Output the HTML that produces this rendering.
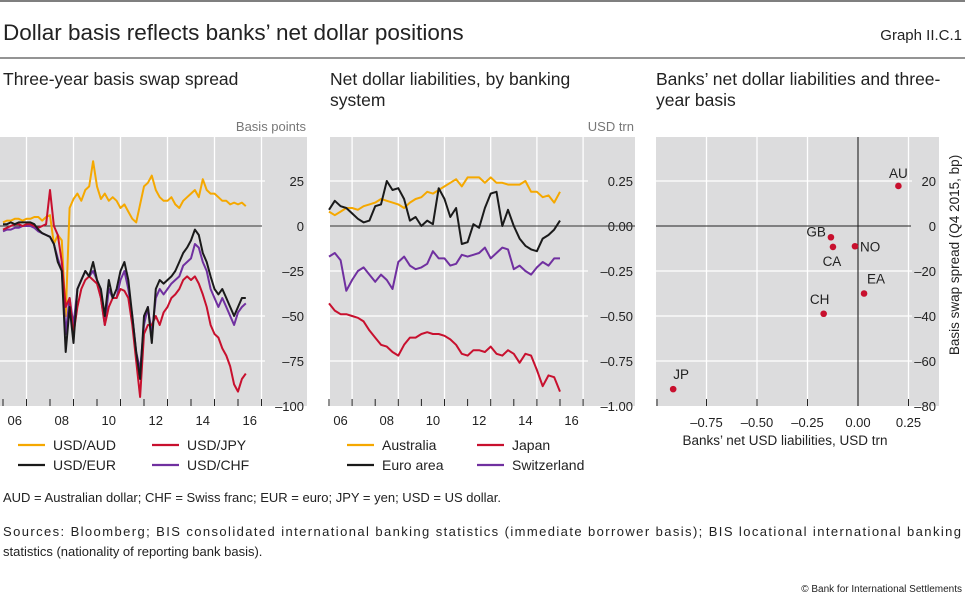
<!DOCTYPE html>
<html><head><meta charset="utf-8"><style>
html,body{margin:0;padding:0;background:#fff;}
svg{display:block;font-family:"Liberation Sans",sans-serif;}
</style></head><body>
<svg id="chart" width="965" height="604" viewBox="0 0 965 604" xmlns="http://www.w3.org/2000/svg">
<line x1="0" y1="1" x2="965" y2="1" stroke="#333" stroke-width="1.2"/>
<text x="3" y="40" font-size="22.5" fill="#222">Dollar basis reflects banks’ net dollar positions</text>
<text x="962" y="40" font-size="15" fill="#222" text-anchor="end">Graph II.C.1</text>
<line x1="0" y1="58" x2="965" y2="58" stroke="#555" stroke-width="1.2"/>
<text x="3" y="85" font-size="17.5" fill="#222">Three-year basis swap spread</text>
<text x="330" y="85" font-size="17.5" fill="#222"><tspan x="330">Net dollar liabilities, by banking</tspan><tspan x="330" dy="21">system</tspan></text>
<text x="656" y="85" font-size="17.5" fill="#222"><tspan x="656">Banks’ net dollar liabilities and three-</tspan><tspan x="656" dy="21">year basis</tspan></text>
<text x="306" y="131" font-size="13" fill="#777" text-anchor="end">Basis points</text>
<text x="634" y="131" font-size="13" fill="#777" text-anchor="end">USD trn</text>
<g id="p1"></g>
<g id="p2"></g>
<g id="p3"></g>
<text x="3" y="502" font-size="13" fill="#222">AUD = Australian dollar; CHF = Swiss franc; EUR = euro; JPY = yen; USD = US dollar.</text>
<text x="3" y="536" font-size="13" fill="#222" textLength="958" lengthAdjust="spacing">Sources: Bloomberg; BIS consolidated international banking statistics (immediate borrower basis); BIS locational international banking</text>
<text x="3" y="556" font-size="13" fill="#222">statistics (nationality of reporting bank basis).</text>
<text x="962" y="592" font-size="10" fill="#222" text-anchor="end">© Bank for International Settlements</text>
</svg>
<script>
// Panel 1 data (bimonthly samples)
const p1Dates = [];
for (let i = 0; i < 63; i++) p1Dates.push(2006 + i / 6);
const audValues = [2,3,3,4,4,3, 4,4,5,5,3,5, 6,-10,-5,-8,-50,10, 15,18,14,20,22,36, 22,15,18,14,16,14, 10,12,8,4,2,12, 22,24,28,20,16,14, 14,16,12,10,14,16, 18,20,16,26,20,18, 18,16,14,14,12,13, 12,13,11];
const chfValues = [-3,-2,-2,-1,-1,0, 0,0,-1,-3,-4,-5, -6,-10,-18,-25,-60,-40, -55,-35,-30,-25,-28,-25, -30,-40,-55,-35,-40,-40, -30,-25,-35,-50,-70,-80, -55,-45,-60,-40,-35,-38, -35,-32,-30,-28,-22,-20, -18,-10,-12,-20,-25,-35, -40,-45,-40,-45,-50,-55, -48,-45,-43];
const jpyValues = [-2,-1,0,1,1,0, 1,1,0,-1,0,1, 20,0,-5,-20,-45,-40, -60,-45,-35,-30,-28,-30, -32,-40,-55,-45,-40,-40, -35,-36,-40,-55,-75,-95, -60,-55,-55,-50,-55,-48, -45,-40,-38,-35,-30,-28, -30,-28,-32,-38,-45,-55, -60,-62,-68,-72,-78,-88, -92,-85,-82];
const eurValues = [1,1,2,1,2,2, 2,2,1,-2,-4,-5, -6,-10,-20,-25,-70,-45, -65,-35,-30,-25,-28,-20, -30,-35,-50,-30,-40,-35, -25,-20,-30,-50,-70,-85, -50,-45,-65,-35,-30,-32, -30,-28,-25,-20,-15,-12, -8,-2,-5,-15,-20,-28, -35,-38,-35,-40,-45,-50, -45,-40,-40];
const p1YTicks = [25, 0, -25, -50, -75, -100];
const p1YTickLabels = ["25", "0", "–25", "–50", "–75", "–100"];
const p1XLabels = ["06", "08", "10", "12", "14", "16"];
const p1XLabelYears = [2006, 2008, 2010, 2012, 2014, 2016];

// Panel 2 data (quarterly, 2006Q1..2016Q1)
const p2Dates = [];
for (let i = 0; i < 41; i++) p2Dates.push(2006 + i / 4);
const australiaValues = [0.08,0.06,0.08,0.10,0.10,0.09,0.11,0.12,0.13,0.15,0.14,0.13,0.12,0.10,0.13,0.15,0.16,0.19,0.18,0.20,0.22,0.24,0.26,0.22,0.27,0.27,0.27,0.24,0.27,0.24,0.24,0.23,0.23,0.23,0.25,0.19,0.19,0.16,0.17,0.13,0.19];
const switzerlandValues = [-0.17,-0.15,-0.19,-0.36,-0.30,-0.25,-0.23,-0.27,-0.31,-0.27,-0.30,-0.35,-0.20,-0.17,-0.22,-0.24,-0.23,-0.21,-0.14,-0.18,-0.18,-0.22,-0.21,-0.16,-0.17,-0.16,-0.15,-0.12,-0.18,-0.15,-0.12,-0.13,-0.24,-0.22,-0.25,-0.27,-0.23,-0.20,-0.22,-0.18,-0.18];
const japanValues = [-0.43,-0.47,-0.49,-0.49,-0.50,-0.51,-0.53,-0.58,-0.62,-0.66,-0.67,-0.70,-0.72,-0.66,-0.62,-0.62,-0.60,-0.59,-0.60,-0.60,-0.61,-0.63,-0.66,-0.71,-0.72,-0.69,-0.69,-0.70,-0.67,-0.71,-0.72,-0.69,-0.71,-0.76,-0.71,-0.72,-0.80,-0.89,-0.83,-0.84,-0.92];
const euroAreaValues = [0.09,0.14,0.11,0.10,0.07,0.04,0.02,0.03,0.11,0.12,0.25,0.20,0.21,0.15,0.03,0.05,0.00,0.03,0.01,0.21,0.15,0.05,0.10,-0.10,-0.09,0.01,-0.01,0.10,0.18,0.19,0.00,0.09,0.00,-0.07,-0.11,-0.13,-0.14,-0.07,-0.05,-0.02,0.03];
const p2YTicks = [0.25, 0, -0.25, -0.5, -0.75, -1];
const p2YTickLabels = ["0.25", "0.00", "–0.25", "–0.50", "–0.75", "–1.00"];

// Panel 3 data (scatter)
const countryCodes = ["AU", "GB", "CA", "NO", "EA", "CH", "JP"];
const netLiabilities = [0.20, -0.134, -0.124, -0.015, 0.03, -0.17, -0.915];
const basisSpread = [17.8, -5, -9.3, -9, -30, -39, -72.5];
const p3XTicks = [-0.75, -0.5, -0.25, 0, 0.25];
const p3XTickLabels = ["–0.75", "–0.50", "–0.25", "0.00", "0.25"];
const p3YTicks = [20, 0, -20, -40, -60, -80];
const p3YTickLabels = ["20", "0", "–20", "–40", "–60", "–80"];

const NS = "http://www.w3.org/2000/svg";
function mk(tag, attrs, parent) {
  const e = document.createElementNS(NS, tag);
  for (const k in attrs) e.setAttribute(k, attrs[k]);
  parent.appendChild(e);
  return e;
}
const COL = {orange: "#f5a800", black: "#1a1a1a", red: "#c8102e", purple: "#7030a0"};

// ---------- Panel 1 ----------
(function () {
  const g = document.getElementById("p1");
  const x = yr => 3 + (yr - 2006) * 23.5;
  const y = v => 226 - v * 1.8;
  const bg = mk("rect", {x: 0, y: 137, width: 307, height: 269, fill: "#dcdcdd"}, g);
  
  
  for (let yr = 2007; yr <= 2017; yr += 2) {
    const l = mk("line", {x1: x(yr), y1: 137, x2: x(yr), y2: 406, stroke: "#fff", "stroke-width": 1.3}, g);
    
    
  }
  p1YTicks.forEach((v, i) => {
    if (v !== 0 && v !== -100) {
      const l = mk("line", {x1: 0, y1: y(v), x2: 265, y2: y(v), stroke: "#fff", "stroke-width": 1.3}, g);
      
      
    }
    const t = mk("text", {x: 304, y: y(v) + 5, "font-size": 13, fill: "#222", "text-anchor": "end"}, g);
    t.textContent = p1YTickLabels[i];
    
    
  });
  const z = mk("line", {x1: 0, y1: y(0), x2: 262, y2: y(0), stroke: "#333", "stroke-width": 1.1}, g);
  
  
  for (let yr = 2006; yr <= 2017; yr++) {
    const l = mk("line", {x1: x(yr), y1: 399, x2: x(yr), y2: 406, stroke: "#222", "stroke-width": 1}, g);
    
    
  }
  p1XLabels.forEach((lab, i) => {
    const t = mk("text", {x: x(p1XLabelYears[i] + 0.5), y: 425, "font-size": 13, fill: "#222", "text-anchor": "middle"}, g);
    t.textContent = lab;
    
    
  });
  const series = [["usd-aud-line", audValues, COL.orange], ["usd-chf-line", chfValues, COL.purple], ["usd-jpy-line", jpyValues, COL.red], ["usd-eur-line", eurValues, COL.black]];
  series.forEach(s => {
    const d = s[1].map((v, i) => (i ? "L" : "M") + x(p1Dates[i]).toFixed(1) + " " + y(v).toFixed(1)).join(" ");
    const p = mk("path", {d: d, fill: "none", stroke: s[2], "stroke-width": 2, "stroke-linejoin": "round"}, g);
    
    
  });
  const leg = [["USD/AUD", COL.orange, 18, 445], ["USD/JPY", COL.red, 152, 445], ["USD/EUR", COL.black, 18, 465], ["USD/CHF", COL.purple, 152, 465]];
  leg.forEach(l => {
    const ln = mk("line", {x1: l[2], y1: l[3], x2: l[2] + 27, y2: l[3], stroke: l[1], "stroke-width": 2.2}, g);
    
    
    const t = mk("text", {x: l[2] + 35, y: l[3] + 5, "font-size": 14, fill: "#222"}, g);
    t.textContent = l[0];
    
    
  });
})();

// ---------- Panel 2 ----------
(function () {
  const g = document.getElementById("p2");
  const x = yr => 329 + (yr - 2006) * 23.1;
  const y = v => 226 - v * 180;
  const bg = mk("rect", {x: 330, y: 137, width: 305, height: 269, fill: "#dcdcdd"}, g);
  
  
  for (let yr = 2007; yr <= 2017; yr += 2) {
    const l = mk("line", {x1: x(yr), y1: 137, x2: x(yr), y2: 406, stroke: "#fff", "stroke-width": 1.3}, g);
    
    
  }
  p2YTicks.forEach((v, i) => {
    if (v !== 0 && v !== -1) {
      const l = mk("line", {x1: 330, y1: y(v), x2: 588, y2: y(v), stroke: "#fff", "stroke-width": 1.3}, g);
      
      
    }
    const t = mk("text", {x: 633, y: y(v) + 5, "font-size": 13, fill: "#222", "text-anchor": "end"}, g);
    t.textContent = p2YTickLabels[i];
    
    
  });
  const z = mk("line", {x1: 330, y1: y(0), x2: 635, y2: y(0), stroke: "#333", "stroke-width": 1.1}, g);
  
  
  for (let yr = 2006; yr <= 2017; yr++) {
    const l = mk("line", {x1: x(yr), y1: 399, x2: x(yr), y2: 406, stroke: "#222", "stroke-width": 1}, g);
    
    
  }
  p1XLabels.forEach((lab, i) => {
    const t = mk("text", {x: x(p1XLabelYears[i] + 0.5), y: 425, "font-size": 13, fill: "#222", "text-anchor": "middle"}, g);
    t.textContent = lab;
    
    
  });
  const series = [["australia-line", australiaValues, COL.orange], ["switzerland-line", switzerlandValues, COL.purple], ["japan-line", japanValues, COL.red], ["euro-area-line", euroAreaValues, COL.black]];
  series.forEach(s => {
    const d = s[1].map((v, i) => (i ? "L" : "M") + x(p2Dates[i]).toFixed(1) + " " + y(v).toFixed(1)).join(" ");
    const p = mk("path", {d: d, fill: "none", stroke: s[2], "stroke-width": 2, "stroke-linejoin": "round"}, g);
    
    
  });
  const leg = [["Australia", COL.orange, 347, 445], ["Japan", COL.red, 477, 445], ["Euro area", COL.black, 347, 465], ["Switzerland", COL.purple, 477, 465]];
  leg.forEach(l => {
    const ln = mk("line", {x1: l[2], y1: l[3], x2: l[2] + 27, y2: l[3], stroke: l[1], "stroke-width": 2.2}, g);
    
    
    const t = mk("text", {x: l[2] + 35, y: l[3] + 5, "font-size": 14, fill: "#222"}, g);
    t.textContent = l[0];
    
    
  });
})();

// ---------- Panel 3 ----------
(function () {
  const g = document.getElementById("p3");
  const x = v => 858 + v * 202;
  const y = v => 226 - v * 2.25;
  const bg = mk("rect", {x: 656, y: 137, width: 283, height: 269, fill: "#dcdcdd"}, g);
  
  
  p3XTicks.forEach((v, i) => {
    if (v !== 0) {
      const l = mk("line", {x1: x(v), y1: 137, x2: x(v), y2: 406, stroke: "#fff", "stroke-width": 1.3}, g);
      
      
    }
    const tk = mk("line", {x1: x(v), y1: 399, x2: x(v), y2: 406, stroke: "#222", "stroke-width": 1}, g);
    
    
    const t = mk("text", {x: x(v), y: 427, "font-size": 13, fill: "#222", "text-anchor": "middle"}, g);
    t.textContent = p3XTickLabels[i];
    
    
  });
  const tk0 = mk("line", {x1: 657, y1: 399, x2: 657, y2: 406, stroke: "#222", "stroke-width": 1}, g);
  
  
  p3YTicks.forEach((v, i) => {
    if (v !== 0 && v !== -80) {
      const l = mk("line", {x1: 656, y1: y(v), x2: 912, y2: y(v), stroke: "#fff", "stroke-width": 1.3}, g);
      
      
    }
    const t = mk("text", {x: 936, y: y(v) + 5, "font-size": 13, fill: "#222", "text-anchor": "end"}, g);
    t.textContent = p3YTickLabels[i];
    
    
  });
  const zh = mk("line", {x1: 656, y1: y(0), x2: 911, y2: y(0), stroke: "#222", "stroke-width": 1.1}, g);
  
  
  const zv = mk("line", {x1: x(0), y1: 137, x2: x(0), y2: 406, stroke: "#222", "stroke-width": 1.1}, g);
  
  
  const off = {AU: [0, -8, "middle"], GB: [-5, -1, "end"], CA: [-1, 19, "middle"], NO: [5, 5, "start"], EA: [12, -10, "middle"], CH: [-4, -10, "middle"], JP: [8, -10, "middle"]};
  countryCodes.forEach((c, i) => {
    const cx = x(netLiabilities[i]), cy = y(basisSpread[i]);
    const dot = mk("circle", {cx: cx, cy: cy, r: 3.3, fill: COL.red}, g);
    
    
    const o = off[c] || [0, -8, "middle"];
    const t = mk("text", {x: cx + o[0], y: cy + o[1], "font-size": 13.5, fill: "#222", "text-anchor": o[2]}, g);
    t.textContent = c;
    
    
  });
  const xt = mk("text", {x: 785, y: 445, "font-size": 13.5, fill: "#222", "text-anchor": "middle"}, g);
  xt.textContent = "Banks’ net USD liabilities, USD trn";
  
  
  const yt = mk("text", {x: 0, y: 0, "font-size": 13.5, fill: "#222", "text-anchor": "middle", transform: "translate(959,255) rotate(-90)"}, g);
  yt.textContent = "Basis swap spread (Q4 2015, bp)";
  
  
})();
</script>
</body></html>
